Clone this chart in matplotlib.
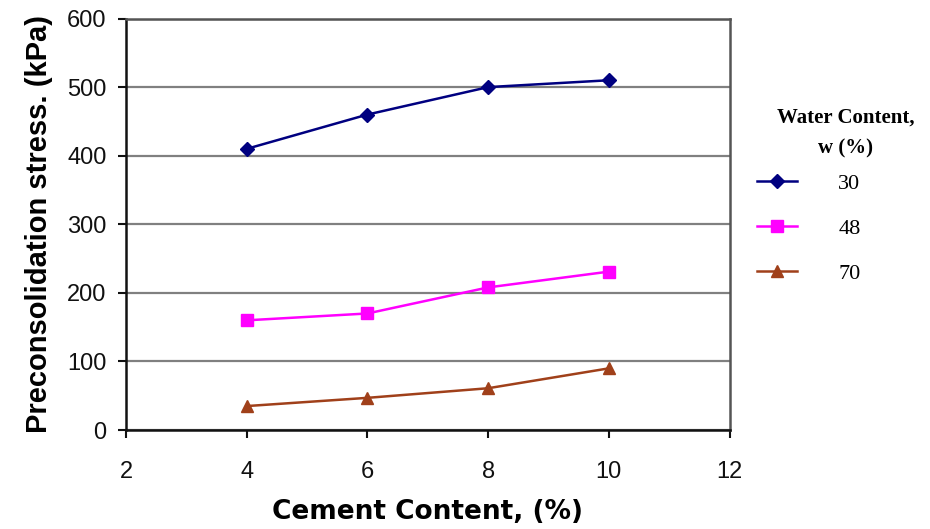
import matplotlib
matplotlib.use('Agg')
import matplotlib.pyplot as plt

cement = [4, 6, 8, 10]
w30 = [410, 460, 500, 510]
w48 = [160, 170, 208, 231]
w70 = [35, 47, 61, 90]
labels = ['30', '48', '70']

fig = plt.figure(figsize=(9.30, 5.29), dpi=100)
ax = fig.add_axes([0.1355, 0.187, 0.649, 0.778])

ax.plot(cement, w30, color='#000080', marker='D', markersize=7, lw=1.8, label=labels[0])
ax.plot(cement, w48, color='#ff00ff', marker='s', markersize=9, lw=1.8, label=labels[1])
ax.plot(cement, w70, color='#a0401a', marker='^', markersize=9, lw=1.8, label=labels[2])

ax.set_xlim(2, 12)
ax.set_ylim(0, 600)
ax.set_xticks([2, 4, 6, 8, 10, 12])
ax.set_yticks(range(0, 700, 100))
ax.yaxis.grid(True, color='#808080', lw=1.6)
ax.set_axisbelow(True)

for s in ['left', 'bottom']:
    ax.spines[s].set_color('#111111')
    ax.spines[s].set_linewidth(1.8)
for s in ['top', 'right']:
    ax.spines[s].set_color('#555555')
    ax.spines[s].set_linewidth(1.8)

ax.tick_params(direction='out', length=6, width=1.5, labelsize=17,
               colors='#111111', pad=8)
ax.tick_params(axis='x', pad=16)
for t in ax.get_xticklabels() + ax.get_yticklabels():
    t.set_family('Liberation Sans')

ax.set_xlabel('Cement Content, (%)', fontsize=19, fontweight='bold',
              family='DejaVu Sans', labelpad=12)
ax.set_ylabel('Preconsolidation stress. (kPa)', fontsize=21, fontweight='bold',
              family='Liberation Sans', labelpad=10)

# legend title drawn separately so it can sit off-centre like the original
fig.text(0.909, 0.748, 'Water Content,\nw (%)', ha='center', va='center',
         multialignment='center', linespacing=1.7,
         family='Liberation Serif', fontsize=15, fontweight='bold')

leg = fig.legend(loc='upper left', bbox_to_anchor=(0.814, 0.673), frameon=False,
                 borderpad=0, borderaxespad=0, handlelength=1.8,
                 labelspacing=1.1, handletextpad=1.85,
                 prop={'family': 'Liberation Serif', 'size': 16})

fig.savefig('out.png', dpi=100)
